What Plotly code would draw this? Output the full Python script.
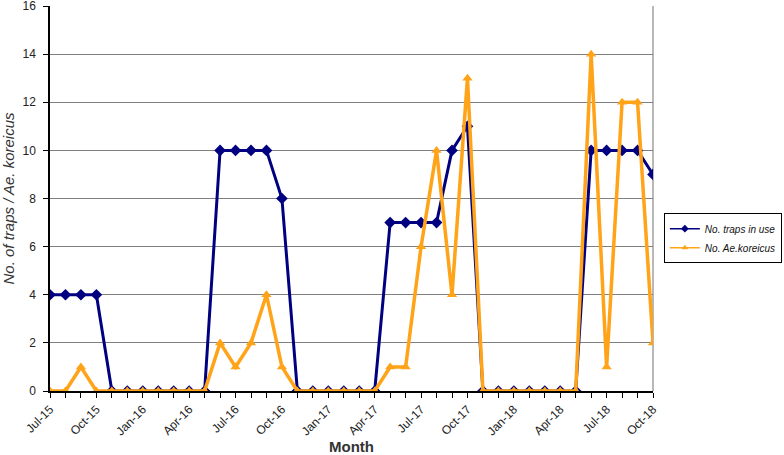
import plotly.graph_objects as go

months = ["Jul-15","Aug-15","Sep-15","Oct-15","Nov-15","Dec-15",
          "Jan-16","Feb-16","Mar-16","Apr-16","May-16","Jun-16",
          "Jul-16","Aug-16","Sep-16","Oct-16","Nov-16","Dec-16",
          "Jan-17","Feb-17","Mar-17","Apr-17","May-17","Jun-17",
          "Jul-17","Aug-17","Sep-17","Oct-17","Nov-17","Dec-17",
          "Jan-18","Feb-18","Mar-18","Apr-18","May-18","Jun-18",
          "Jul-18","Aug-18","Sep-18","Oct-18"]
traps = [4,4,4,4,0,0,0,0,0,0,0,10,10,10,10,8,0,0,0,0,0,0,7,7,7,7,10,11,0,0,0,0,0,0,0,10,10,10,10,9]
koreicus = [0,0,1,0,0,0,0,0,0,0,0,2,1,2,4,1,0,0,0,0,0,0,1,1,6,10,4,13,0,0,0,0,0,0,0,14,1,12,12,2]
y_ticks = [0,2,4,6,8,10,12,14,16]
series_names = ["<i>No. traps in use</i>", "<i>No. Ae.koreicus</i>"]

x = list(range(len(months)))
label_idx = x[::3]
label_txt = [months[i] for i in label_idx]

FONT = "Arial, Liberation Sans, sans-serif"
BLUE = "#000080"
ORANGE = "#FFA319"

fig = go.Figure()
fig.add_trace(go.Scatter(
    x=x, y=traps, mode="lines+markers", name=series_names[0], showlegend=False,
    line=dict(color=BLUE, width=3),
    marker=dict(symbol="diamond", size=9, color=BLUE),
))
fig.add_trace(go.Scatter(
    x=x, y=koreicus, mode="lines+markers", name=series_names[1], showlegend=False,
    line=dict(color=ORANGE, width=3.5),
    marker=dict(symbol="triangle-up", size=9, color=ORANGE),
))
# legend-only entries (thin line style as in the original legend)
fig.add_trace(go.Scatter(
    x=[None], y=[None], mode="lines+markers", name=series_names[0],
    line=dict(color=BLUE, width=1.5), marker=dict(symbol="diamond", size=6, color=BLUE),
))
fig.add_trace(go.Scatter(
    x=[None], y=[None], mode="lines+markers", name=series_names[1],
    line=dict(color=ORANGE, width=1.5), marker=dict(symbol="triangle-up", size=6, color=ORANGE),
))

fig.update_layout(
    width=784, height=455,
    margin=dict(l=50, r=131, t=6, b=64, autoexpand=False),
    paper_bgcolor="white", plot_bgcolor="white",
    font=dict(family=FONT, size=11, color="#222"),
    showlegend=True,
    legend=dict(x=1.018, y=0.462, xanchor="left", yanchor="top",
                bordercolor="#000", borderwidth=1, bgcolor="white",
                font=dict(size=10, color="#111"), tracegroupgap=0, itemwidth=30),
    xaxis=dict(
        range=[0, len(months)-1], tickmode="array", tickvals=label_idx, ticktext=label_txt,
        tickangle=-45, ticks="outside", ticklen=5, tickcolor="#000",
        minor=dict(dtick=1, tick0=0, ticks="outside", ticklen=5, tickcolor="#000", showgrid=False),
        showgrid=False, showline=True, linecolor="#000", linewidth=1.5, zeroline=False,
        automargin=False, ticklabeloverflow="allow",
        tickfont=dict(size=12, color="#222"),
        title=dict(text="<b>Month</b>", font=dict(size=15, color="#333"), standoff=0),
    ),
    yaxis=dict(
        range=[0, 16], tickmode="array", tickvals=y_ticks,
        ticks="outside", ticklen=5, tickcolor="#000", ticklabelstandoff=5,
        showgrid=True, gridcolor="#808080", gridwidth=1,
        showline=True, linecolor="#000", linewidth=1.5, zeroline=False,
        automargin=False, ticklabeloverflow="allow",
        tickfont=dict(size=12, color="#222"),
        title=dict(text="<i>No. of traps / Ae. koreicus</i>", font=dict(size=15, color="#333"), standoff=6),
    ),
    shapes=[dict(type="line", xref="paper", yref="paper", x0=1, x1=1, y0=0, y1=1,
                 line=dict(color="#A0A0A0", width=1.5), layer="below")],
)

fig.write_html("out.html", post_script="document.body.style.margin='0px';",
               config={"displayModeBar": False})
